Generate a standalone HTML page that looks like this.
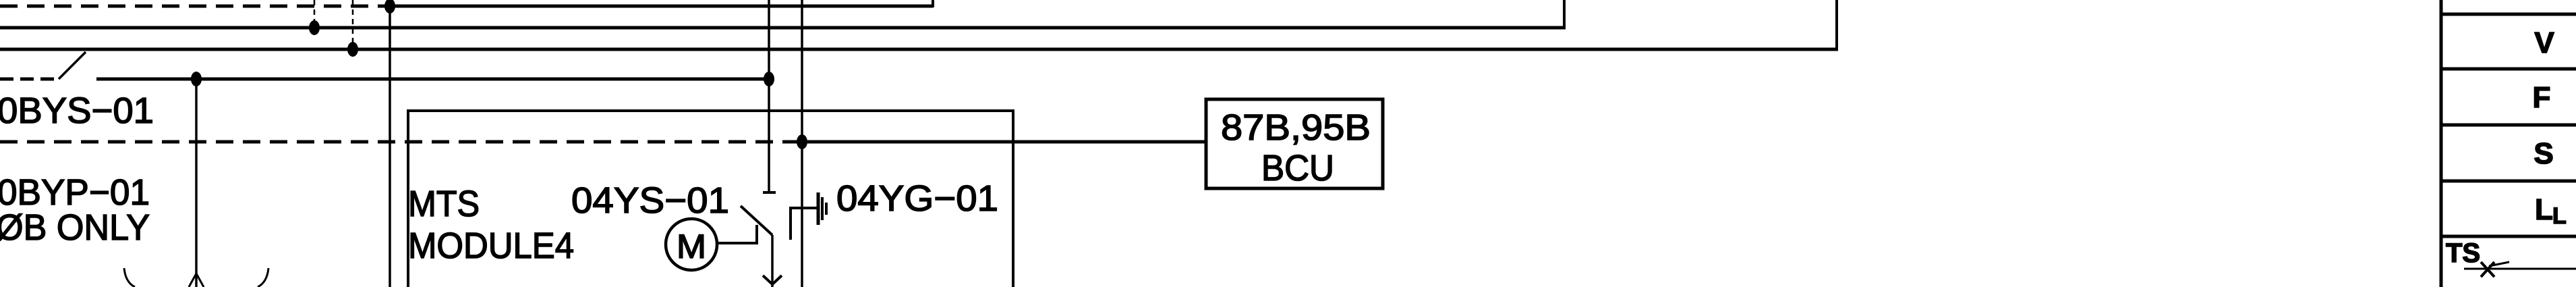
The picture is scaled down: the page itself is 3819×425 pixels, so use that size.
<!DOCTYPE html>
<html><head><meta charset="utf-8"><style>
html,body{margin:0;padding:0;background:#fff;}
svg{display:block;}
text{font-family:"Liberation Sans",sans-serif;fill:#000;stroke:#000;stroke-width:1.6;}
</style></head><body>
<svg width="3819" height="425" viewBox="0 0 3819 425" xmlns="http://www.w3.org/2000/svg">
<g stroke="#000" fill="none" stroke-linecap="butt">
<line x1="0" y1="9" x2="560" y2="9" stroke-width="5" stroke-dasharray="26,14"/>
<line x1="560" y1="9" x2="1383" y2="9" stroke-width="5"/>
<line x1="1383" y1="0" x2="1383" y2="11" stroke-width="4"/>
<line x1="0" y1="41" x2="2321" y2="41" stroke-width="5"/>
<line x1="2319" y1="0" x2="2319" y2="43" stroke-width="4"/>
<line x1="0" y1="73" x2="2725" y2="73" stroke-width="5"/>
<line x1="2723" y1="0" x2="2723" y2="75" stroke-width="4"/>
<line x1="466" y1="0" x2="466" y2="41" stroke-width="2.5" stroke-dasharray="8,6"/>
<line x1="523" y1="0" x2="523" y2="73" stroke-width="2.5" stroke-dasharray="8,6"/>
<line x1="578" y1="0" x2="578" y2="425" stroke-width="3.5"/>
<line x1="0" y1="117" x2="84" y2="117" stroke-width="5" stroke-dasharray="20,10"/>
<line x1="87" y1="117" x2="127" y2="77" stroke-width="3.5"/>
<line x1="143" y1="117" x2="1140" y2="117" stroke-width="5"/>
<line x1="291" y1="117" x2="291" y2="425" stroke-width="3.5"/>
<line x1="1140" y1="0" x2="1140" y2="285" stroke-width="3.5"/>
<line x1="1131" y1="285" x2="1150" y2="285" stroke-width="4"/>
<line x1="1189" y1="0" x2="1189" y2="425" stroke-width="3.5"/>
<path d="M184 397 Q186 418 200 425" stroke-width="3"/>
<path d="M398 397 Q396 418 382 425" stroke-width="3"/>
<path d="M280 425 L291 405 L302 425" stroke-width="3"/>
<line x1="0" y1="210" x2="1189" y2="210" stroke-width="5" stroke-dasharray="26,14"/>
<line x1="1189" y1="210" x2="1787" y2="210" stroke-width="5"/>
<path d="M605 425 L605 164 L1502 164 L1502 425" stroke-width="4"/>
<rect x="1788" y="147" width="262" height="132" stroke-width="5"/>
<line x1="1098" y1="305" x2="1145" y2="348" stroke-width="4"/>
<line x1="1145" y1="348" x2="1145" y2="425" stroke-width="3.5"/>
<path d="M1131 408 L1145 421 L1159 408" stroke-width="4"/>
<circle cx="1025" cy="362" r="38" stroke-width="4.5"/>
<path d="M1063 360 L1122 360 L1122 333" stroke-width="4"/>
<path d="M1172 355 L1172 308 L1213 308" stroke-width="4"/>
<line x1="1213" y1="285" x2="1213" y2="333" stroke-width="5"/>
<line x1="1219" y1="292" x2="1219" y2="326" stroke-width="4"/>
<line x1="1225" y1="300" x2="1225" y2="318" stroke-width="4"/>
<line x1="3619" y1="0" x2="3619" y2="425" stroke-width="5"/>
<g stroke-width="5">
<line x1="3619" y1="21" x2="3819" y2="21"/>
<line x1="3619" y1="102" x2="3819" y2="102"/>
<line x1="3619" y1="185" x2="3819" y2="185"/>
<line x1="3619" y1="268" x2="3819" y2="268"/>
<line x1="3619" y1="350" x2="3819" y2="350"/>
</g>
<line x1="3653" y1="398" x2="3819" y2="398" stroke-width="3"/>
<path d="M3678 388 L3698 410 M3698 388 L3678 410" stroke-width="4"/>
<path d="M3690 394 L3720 388" stroke-width="3"/>
</g>
<g fill="#000">
<ellipse cx="578" cy="9" rx="8" ry="11"/>
<ellipse cx="466" cy="41" rx="8" ry="11"/>
<ellipse cx="523" cy="73" rx="8" ry="11"/>
<ellipse cx="291" cy="117" rx="8" ry="11"/>
<ellipse cx="1140" cy="117" rx="8" ry="11"/>
<ellipse cx="1189" cy="210" rx="8" ry="11"/>
</g>
<g font-size="54">
<text x="-4" y="182" textLength="232" lengthAdjust="spacingAndGlyphs">0BYS−01</text>
<text x="-4" y="303" textLength="226" lengthAdjust="spacingAndGlyphs">0BYP−01</text>
<text x="-6" y="355" textLength="228" lengthAdjust="spacingAndGlyphs">ØB ONLY</text>
<text x="605" y="320" textLength="106" lengthAdjust="spacingAndGlyphs">MTS</text>
<text x="605" y="382" textLength="246" lengthAdjust="spacingAndGlyphs">MODULE4</text>
<text x="847" y="315" textLength="234" lengthAdjust="spacingAndGlyphs">04YS−01</text>
<text x="1240" y="312" textLength="240" lengthAdjust="spacingAndGlyphs">04YG−01</text>
<text x="1810" y="207" textLength="222" lengthAdjust="spacingAndGlyphs">87B,95B</text>
<text x="1870" y="267" textLength="108" lengthAdjust="spacingAndGlyphs">BCU</text>
<text x="1003" y="382" font-size="50" textLength="44" lengthAdjust="spacingAndGlyphs">M</text>
</g>
<g font-size="44" font-weight="bold">
<text x="3772" y="78" text-anchor="middle">V</text>
<text x="3768" y="159" text-anchor="middle">F</text>
<text x="3771" y="242" text-anchor="middle">S</text>
<text x="3758" y="325">L</text>
<text x="3784" y="331" font-size="34">L</text>
<text x="3626" y="388" font-size="40">TS</text>
</g>
</svg>
</body></html>
